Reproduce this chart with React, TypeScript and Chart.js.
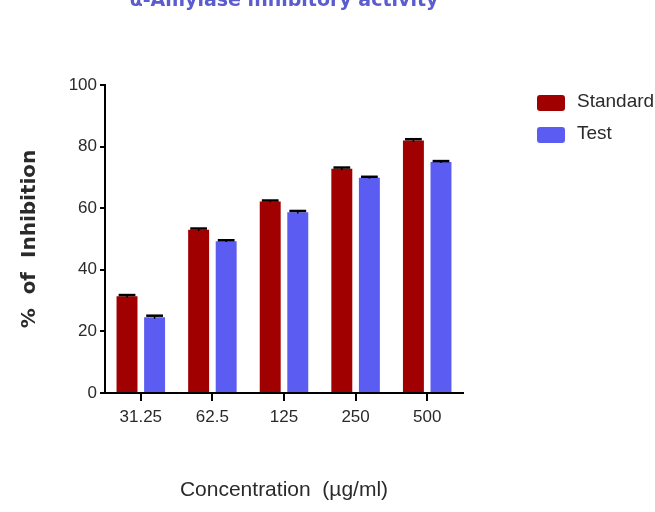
import { useEffect, useRef } from "react";
import { Chart, registerables } from "chart.js";
Chart.register(...registerables);

const categories = ["31.25", "62.5", "125", "250", "500"];
const standardValues = [31.4, 53.0, 62.2, 72.8, 82.0];
const standardErrors = [0.4, 0.4, 0.3, 0.4, 0.4];
const testValues = [24.6, 49.3, 58.7, 69.9, 75.0];
const testErrors = [0.5, 0.3, 0.4, 0.3, 0.3];
const yTicks = [0, 20, 40, 60, 80, 100];
const seriesNames = ["Standard", "Test"];
const seriesColors = ["#a00000", "#5b5cf2"];
const titleText = "α-Amylase inhibitory activity";

const REG = "'Liberation Sans', Arial, sans-serif";

const errorBars = {
  id: "errorBars",
  afterDatasetsDraw(chart: any) {
    const ctx = chart.ctx;
    const yScale = chart.scales.y;
    const errs = [standardErrors, testErrors];
    chart.data.datasets.forEach((ds: any, di: number) => {
      const meta = chart.getDatasetMeta(di);
      meta.data.forEach((bar: any, i: number) => {
        const v = ds.data[i];
        const e = errs[di][i];
        const yTop = yScale.getPixelForValue(v + e);
        const yBot = yScale.getPixelForValue(v - e);
        const w = bar.width * 0.8;
        ctx.save();
        ctx.strokeStyle = "#000";
        ctx.lineWidth = 1.5;
        ctx.beginPath();
        ctx.moveTo(bar.x, yBot);
        ctx.lineTo(bar.x, yTop);
        ctx.stroke();
        ctx.lineWidth = 2.5;
        ctx.beginPath();
        ctx.moveTo(bar.x - w / 2, yTop);
        ctx.lineTo(bar.x + w / 2, yTop);
        ctx.stroke();
        ctx.restore();
      });
    });
  },
};

const sideLegend = {
  id: "sideLegend",
  afterDraw(chart: any) {
    const ctx = chart.ctx;
    const area = chart.chartArea;
    const x0 = area.right + 74;
    const y0 = area.top + 10;
    const bw = 28;
    const bh = 16;
    const step = 32;
    ctx.save();
    seriesNames.forEach((name, i) => {
      const y = y0 + i * step;
      ctx.fillStyle = seriesColors[i];
      ctx.beginPath();
      (ctx as any).roundRect(x0, y, bw, bh, 3);
      ctx.fill();
      ctx.fillStyle = "#2a2a2a";
      ctx.font = `19px ${REG}`;
      ctx.textAlign = "left";
      ctx.textBaseline = "middle";
      ctx.fillText(name, x0 + bw + 12, y + bh / 2 - 1);
    });
    ctx.restore();
  },
};

const topTitle = {
  id: "topTitle",
  afterDraw(chart: any) {
    const ctx = chart.ctx;
    const area = chart.chartArea;
    ctx.save();
    ctx.fillStyle = "#5a5ccf";
    ctx.font = `bold 19px 'DejaVu Sans', Verdana, sans-serif`;
    ctx.textAlign = "center";
    ctx.textBaseline = "alphabetic";
    ctx.fillText(titleText, (area.left + area.right) / 2, 6);
    ctx.restore();
  },
};

export default function App() {
  const ref = useRef<HTMLCanvasElement>(null);
  useEffect(() => {
    if (!ref.current) return;
    const chart = new Chart(ref.current, {
      type: "bar",
      data: {
        labels: categories,
        datasets: [
          {
            label: seriesNames[0],
            data: standardValues,
            backgroundColor: seriesColors[0],
            categoryPercentage: 0.77,
            barPercentage: 0.76,
          },
          {
            label: seriesNames[1],
            data: testValues,
            backgroundColor: seriesColors[1],
            categoryPercentage: 0.77,
            barPercentage: 0.76,
          },
        ],
      },
      plugins: [errorBars, sideLegend, topTitle],
      options: {
        responsive: false,
        animation: false,
        layout: { padding: { top: 85, right: 192, bottom: 0, left: 0 } },
        plugins: {
          legend: { display: false },
          title: { display: false },
          tooltip: { enabled: false },
        },
        scales: {
          x: {
            grid: {
              display: true,
              drawOnChartArea: false,
              offset: false,
              color: "#000",
              lineWidth: 2,
              tickLength: 8,
              tickWidth: 2,
            },
            border: { display: true, color: "#000", width: 2 },
            ticks: {
              color: "#2a2a2a",
              font: { family: REG, size: 17 },
              padding: 6,
              maxRotation: 0,
            },
            title: {
              display: true,
              text: "Concentration  (µg/ml)",
              color: "#2a2a2a",
              font: { family: REG, size: 21 },
              padding: { top: 0, bottom: 9 },
            },
            afterFit: (scale: any) => {
              scale.height = 119;
            },
          },
          y: {
            min: 0,
            max: 100,
            afterBuildTicks: (scale: any) => {
              scale.ticks = yTicks.map((v) => ({ value: v }));
            },
            grid: {
              display: true,
              drawOnChartArea: false,
              color: "#000",
              lineWidth: 2,
              tickLength: 5,
              tickWidth: 2,
            },
            border: { display: true, color: "#000", width: 2 },
            ticks: {
              color: "#2a2a2a",
              font: { family: REG, size: 17 },
              padding: 3,
            },
            title: {
              display: true,
              text: "%  of  Inhibition",
              color: "#2a2a2a",
              font: { family: "'DejaVu Sans', Verdana, sans-serif", size: 20, weight: "bold" },
              padding: { top: 18, bottom: 0 },
            },
            afterFit: (scale: any) => {
              scale.width = 105;
            },
          },
        },
      },
    });
    return () => chart.destroy();
  }, []);
  return (
    <div style={{ position: "fixed", left: 0, top: 0, width: 655, height: 512, background: "#fff" }}>
      <canvas ref={ref} width={655} height={512} style={{ display: "block" }} />
    </div>
  );
}
